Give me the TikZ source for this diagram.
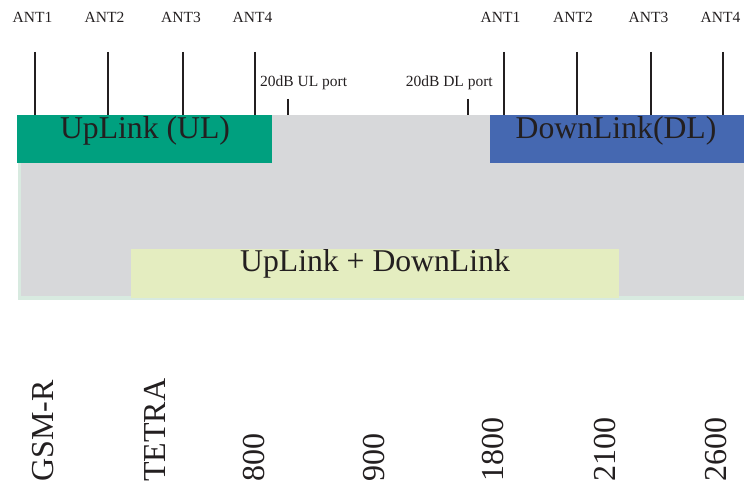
\documentclass[tikz,border=0pt]{standalone}
\usepackage{fontspec}
\setmainfont{Liberation Serif}
\definecolor{ink}{HTML}{231F20}
\definecolor{ulgreen}{HTML}{00A07F}
\definecolor{dlblue}{HTML}{4568B1}
\definecolor{graybg}{HTML}{D7D8DA}
\definecolor{grayedge}{HTML}{D8EAE0}
\definecolor{palegreen}{HTML}{E4EDC0}
\tikzset{
  antlabel/.style={font=\fontsize{15.5}{16}\selectfont, text=ink, anchor=base, inner sep=0pt},
  antline/.style={draw=ink, line width=2pt},
  bigtext/.style={font=\fontsize{31.7}{33}\selectfont, text=ink, anchor=base, inner sep=0pt},
  bandlabel/.style={font=\fontsize{32}{33}\selectfont, text=ink, anchor=base west, rotate=90, inner sep=0pt},
}
\begin{document}
\begin{tikzpicture}[x=1pt,y=-1pt]
\useasboundingbox (0,0) rectangle (744,486);
% background panel
\fill[grayedge] (18,115) rectangle (744,299.5);
\fill[graybg] (21,115) rectangle (744,296.5);
\node[fill=palegreen, inner sep=0pt, minimum width=488pt, minimum height=49pt, anchor=north west] (ulb) at (131,249) {};
% UL / DL boxes
\node[fill=ulgreen, inner sep=0pt, minimum width=255pt, minimum height=48pt, anchor=north west] (ul) at (17,115) {};
\node[fill=dlblue, inner sep=0pt, minimum width=254pt, minimum height=48pt, anchor=north west] (dl) at (490,115) {};
\node[bigtext] (ultext) at (145,138.5) {UpLink (UL)};
\node[bigtext] (dltext) at (616,138.5) {DownLink(DL)};
\node[bigtext] (ulbtext) at (375,272) {UpLink + DownLink};
% antennas UL
\foreach \n/\lx/\x in {1/32.5/35,2/104.5/108,3/181/183,4/252.5/255}{
  \node[antlabel] (ulant\n) at (\lx,23) {ANT\n};
  \coordinate (ulanttop\n) at (\x,52);
  \coordinate (ulantbot\n) at (\x,115);
  \draw[antline] (ulanttop\n) -- (ulantbot\n);
}
% antennas DL
\foreach \n/\lx/\x in {1/500.5/504,2/573/577,3/648.5/651,4/720.5/723}{
  \node[antlabel] (dlant\n) at (\lx,23) {ANT\n};
  \coordinate (dlanttop\n) at (\x,52);
  \coordinate (dlantbot\n) at (\x,115);
  \draw[antline] (dlanttop\n) -- (dlantbot\n);
}
% 20 dB ports
\coordinate (ulporttop) at (288,99);
\coordinate (ulportbot) at (288,115);
\draw[antline] (ulporttop) -- (ulportbot);
\node[antlabel, anchor=base west] (ulport) at (260,87) {20dB UL port};
\coordinate (dlporttop) at (468,99);
\coordinate (dlportbot) at (468,115);
\draw[antline] (dlporttop) -- (dlportbot);
\node[antlabel, anchor=base east] (dlport) at (493,87) {20dB DL port};
% band labels
\node[bandlabel] (gsmr) at (53,482) {GSM-R};
\node[bandlabel] (tetra) at (165,482) {TETRA};
\node[bandlabel] (b800) at (264,482) {800};
\node[bandlabel] (b900) at (384,482) {900};
\node[bandlabel] (b1800) at (503,482) {1800};
\node[bandlabel] (b2100) at (615,482) {2100};
\node[bandlabel] (b2600) at (726,482) {2600};
\end{tikzpicture}
\end{document}
